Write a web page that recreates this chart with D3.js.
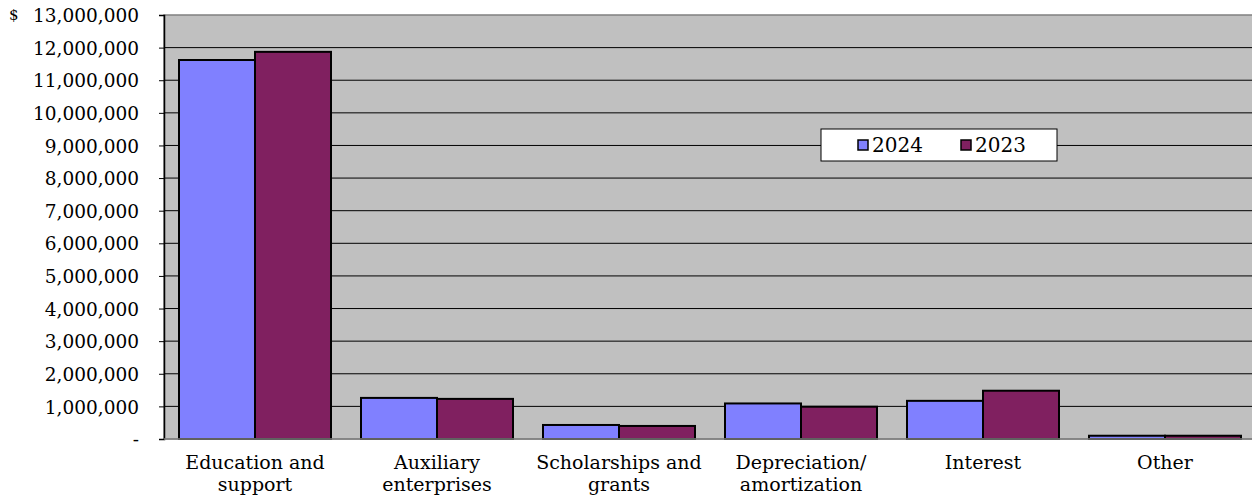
<!doctype html>
<html lang="en">
  <head>
    <meta charset="utf-8">
    <title>expenses by category</title>
    <script src="https://d3js.org/d3.v7.min.js"></script>
    <style>
      body { margin: 0; background: #fff; overflow: hidden; }
      svg text { font-family: 'DejaVu Serif', serif; fill: #000; }
    </style>
  </head>
  <body>
    <div id="root"></div>
  </body>
  <script>

    //data:
    const categories = [['Education and', 'support'], ['Auxiliary', 'enterprises'], ['Scholarships and', 'grants'],
      ['Depreciation/', 'amortization'], ['Interest'], ['Other']];
    const series = ['2024', '2023'];
    const values2024 = [11620000, 1260000, 430000, 1090000, 1170000, 100000];
    const values2023 = [11870000, 1230000, 400000, 990000, 1480000, 100000];
    const colors = ['#8080FF', '#802060'];

    //constants:
    const width = 1252;
    const height = 498;
    const plotLeft = 164, plotRight = 1256, plotTop = 15, plotBottom = 439;

    const x0 = d3.scaleBand().domain(d3.range(categories.length)).range([plotLeft, plotRight])
      .paddingInner(30 / 182).paddingOuter(15 / 182);
    const x1 = d3.scaleBand().domain(series).range([0, x0.bandwidth()]);
    const y = d3.scaleLinear().domain([0, 13000000]).range([plotBottom, plotTop]);

    const svg = d3.select('#root').append('svg')
      .attr('width', width).attr('height', height);

    svg.append('rect')
      .attr('x', plotLeft).attr('y', plotTop).attr('width', plotRight - plotLeft).attr('height', plotBottom - plotTop)
      .attr('fill', '#C0C0C0').attr('stroke', '#808080').attr('stroke-width', 1.5);

    //gridlines
    const ticks = d3.range(0, 13000001, 1000000);
    svg.append('g').selectAll('line').data(ticks.slice(1, -1)).enter().append('line')
      .attr('x1', plotLeft).attr('x2', plotRight)
      .attr('y1', d => y(d)).attr('y2', d => y(d))
      .attr('stroke', '#000').attr('stroke-width', 1);

    //bars
    const data = [values2024, values2023];
    const groups = svg.append('g').selectAll('g').data(categories).enter().append('g')
      .attr('transform', (d, i) => `translate(${x0(i)},0)`);
    groups.selectAll('rect').data((d, i) => series.map((s, k) => ({ s, k, v: data[k][i] }))).enter().append('rect')
      .attr('x', d => x1(d.s)).attr('width', x1.bandwidth())
      .attr('y', d => y(d.v)).attr('height', d => y(0) - y(d.v))
      .attr('fill', d => colors[d.k]).attr('stroke', '#000').attr('stroke-width', 2);

    //y axis
    const yAxis = d3.axisLeft(y).tickValues(ticks).tickSize(5).tickPadding(20)
      .tickFormat(d => d === 0 ? '-' : d3.format(',')(d));
    const ya = svg.append('g').attr('transform', `translate(${plotLeft},0)`).call(yAxis);
    ya.attr('font-size', null).attr('font-family', null).style('font-size', '18.5px');
    ya.select('.domain').attr('stroke', '#000').attr('stroke-width', 1.5);
    ya.selectAll('.tick line').attr('stroke', '#000');
    ya.selectAll('.tick text').attr('dy', '0.36em');

    svg.append('text').attr('x', 9).attr('y', y(13000000)).attr('dy', '0.36em').style('font-size', '15px').text('$');

    svg.append('line').attr('x1', plotLeft).attr('x2', plotRight).attr('y1', plotBottom).attr('y2', plotBottom)
      .attr('stroke', '#808080').attr('stroke-width', 1.5);

    //category labels
    const lbl = svg.append('g').style('font-size', '19px').selectAll('text').data(categories).enter().append('text')
      .attr('text-anchor', 'middle')
      .attr('x', (d, i) => x0(i) + x0.bandwidth() / 2)
      .attr('y', 469);
    lbl.selectAll('tspan').data(d => d).enter().append('tspan')
      .attr('x', function () { return this.parentNode.getAttribute('x'); })
      .attr('dy', (d, i) => i === 0 ? 0 : 22)
      .text(d => d);

    //legend
    const leg = svg.append('g').attr('transform', 'translate(821,129)').style('font-size', '20px');
    leg.append('rect').attr('width', 236).attr('height', 32).attr('fill', '#fff').attr('stroke', '#000');
    const items = leg.selectAll('g').data(series).enter().append('g')
      .attr('transform', (d, i) => `translate(${37 + i * 103},0)`);
    items.append('rect').attr('y', 11).attr('width', 10).attr('height', 10)
      .attr('fill', (d, i) => colors[i]).attr('stroke', '#000').attr('stroke-width', 1.5);
    items.append('text').attr('x', 14).attr('y', 16).attr('dy', '0.36em').text(d => d);

  </script>
</html>
